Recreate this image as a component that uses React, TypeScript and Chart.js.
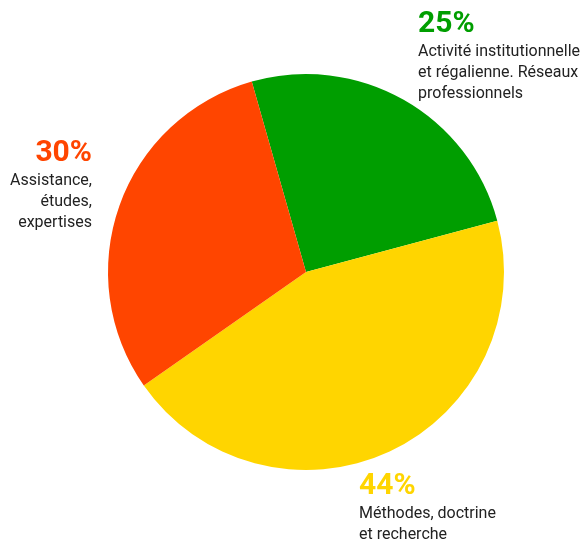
import React, { useEffect, useRef } from "react";
import { Chart, registerables } from "chart.js";

Chart.register(...registerables);

const categories = [
  ["Activité institutionnelle", "et régalienne. Réseaux", "professionnels"],
  ["Méthodes, doctrine", "et recherche"],
  ["Assistance,", "études,", "expertises"],
];
const values = [25, 44, 30];
const percentLabels = ["25%", "44%", "30%"];
const colors = ["#009E00", "#FFD500", "#FF4500"];

// label anchors (canvas px) and alignment
const labelLayout = [
  { x: 418, y: 32, align: "left" as CanvasTextAlign },
  { x: 359, y: 494, align: "left" as CanvasTextAlign },
  { x: 92, y: 161, align: "right" as CanvasTextAlign },
];

const labelPlugin = {
  id: "outerLabels",
  afterDraw(chart: any) {
    const ctx = chart.ctx;
    ctx.save();
    labelLayout.forEach((l, i) => {
      ctx.textAlign = l.align;
      ctx.textBaseline = "alphabetic";
      ctx.fillStyle = colors[i];
      ctx.font = "bold 30px Roboto";
      ctx.fillText(percentLabels[i], l.x, l.y);
      ctx.fillStyle = "#222";
      ctx.font = "16px Roboto";
      categories[i].forEach((line, j) => {
        ctx.fillText(line, l.x, l.y + 24 + j * 21);
      });
    });
    ctx.restore();
  },
};

export default function App() {
  const ref = useRef<HTMLCanvasElement>(null);
  useEffect(() => {
    const chart = new Chart(ref.current!, {
      type: "pie",
      data: {
        labels: categories.map((c) => c.join(" ")),
        datasets: [
          {
            data: values,
            backgroundColor: colors,
            borderWidth: 0,
          },
        ],
      },
      options: {
        animation: false,
        responsive: false,
        rotation: -15.9,
        layout: { padding: { top: 74, bottom: 70, left: 108, right: 78 } },
        plugins: { legend: { display: false }, tooltip: { enabled: false } },
      },
      plugins: [labelPlugin],
    });
    return () => chart.destroy();
  }, []);
  return (
    <div style={{ position: "absolute", left: 0, top: 0, width: 582, height: 540 }}>
      <canvas ref={ref} width={582} height={540} />
    </div>
  );
}
